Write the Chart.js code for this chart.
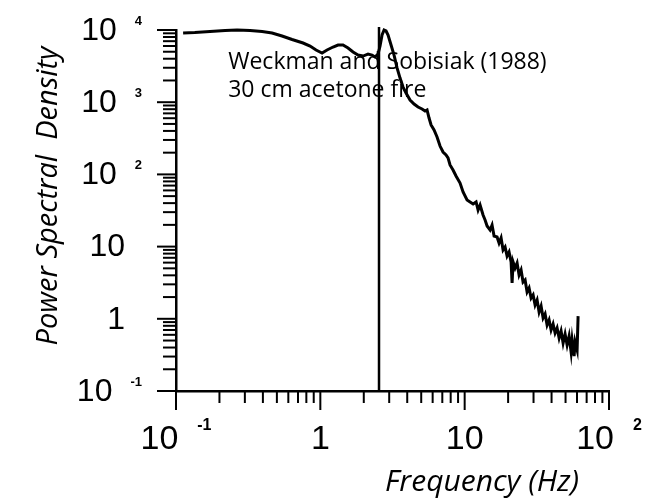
<!DOCTYPE html>
<html>
<head>
<meta charset="utf-8">
<script src="https://cdn.jsdelivr.net/npm/chart.js@4/dist/chart.umd.min.js"></script>
<style>
  html, body { margin: 0; padding: 0; background: #fff; }
  #wrap { width: 662px; height: 500px; position: relative; }
</style>
</head>
<body>
<div id="wrap"><canvas id="theChart"></canvas></div>
<script>
// spectrum (Hz, PSD)
const freq = [0.112, 0.135, 0.172, 0.219, 0.265, 0.326, 0.395, 0.463, 0.543, 0.637,
  0.759, 0.849, 0.934, 1.028, 1.113, 1.225, 1.326, 1.436, 1.556, 1.685,
  1.825, 1.977, 2.141, 2.282, 2.394, 2.511, 2.593, 2.677, 2.764, 2.853,
  2.946, 3.09, 3.242, 3.401, 3.567, 3.742, 3.925, 4.184, 4.46, 4.753,
  5.067, 5.316, 5.488, 5.666, 5.851, 6.136, 6.437, 6.751, 7.082, 7.429,
  7.669, 7.919, 8.307, 8.714, 9.292, 9.748, 10.39, 10.9, 11.44, 12.0,
  12.39, 12.79, 13.41, 13.85, 14.3, 15.0, 15.48, 15.99, 16.77, 17.31,
  17.88, 18.46, 19.06, 19.67, 20.31, 20.97, 21.31, 21.65, 22.35, 23.08,
  23.82, 24.6, 25.39, 26.22, 27.07, 27.95, 28.86, 29.8, 30.76, 31.76,
  32.79, 33.85, 34.95, 36.08, 37.25, 38.46, 39.7, 40.99, 42.32, 43.69,
  45.12, 46.57, 48.09, 49.64, 51.26, 52.91, 54.63, 55.51, 57.31, 58.23,
  60.12, 61.08];
const psd = [9090, 9230, 9530, 9840, 10000, 9840, 9530, 9090, 8260, 7390,
  6600, 6000, 5280, 4800, 5280, 5810, 6200, 6200, 5630, 4960,
  4500, 4360, 4650, 4500, 4230, 4650, 6000, 8530, 10000, 9690,
  8530, 6200, 4500, 2980, 2160, 1620, 1340, 1070, 944, 858,
  805, 755, 780, 604, 483, 412, 330, 247, 204, 186,
  169, 135, 115, 95, 76, 57, 44.2, 41.5, 38.9, 41.5,
  32.1, 37.7, 27.4, 23.4, 19.3, 17.0, 19.9, 14.0, 13.6, 11.2,
  13.2, 8.97, 9.87, 7.41, 8.42, 6.12, 3.13, 6.12, 5.05, 5.93,
  4.04, 4.74, 3.23, 3.45, 2.35, 2.67, 1.94, 2.14, 1.55, 1.82,
  1.24, 1.5, 1.03, 1.17, 0.821, 0.963, 0.7, 0.847, 0.636, 0.746,
  0.542, 0.678, 0.462, 0.616, 0.434, 0.578, 0.347, 0.509, 0.305, 0.477,
  0.37, 1.09];

// vertical marker line near the peak
const peakFreq = [2.55, 2.55];
const peakPsd = [0.1, 11000];

const xTickVals = [0.1, 1, 10, 100];
const xTickBase = ["10", "1", "10", "10"];
const xTickExp = ["-1", "", "", "2"];
const yTickVals = [0.1, 1, 10, 100, 1000, 10000];
const yTickBase = ["10", "1", "10", "10", "10", "10"];
const yTickExp = ["-1", "", "", "2", "3", "4"];
const minorSteps = [2, 3, 4, 5, 6, 7, 8, 9];

const xTitle = "Frequency (Hz)";
const yTitle = "Power Spectral  Density";
const noteLines = ["Weckman and Sobisiak (1988)", "30 cm acetone fire"];
const noteAt = { x: 0.23, y: 2900 };

function tickList(decades) {
  let out = [];
  decades.forEach((d, i) => {
    out.push({ value: d, major: true });
    if (i < decades.length - 1) {
      minorSteps.forEach(m => out.push({ value: d * m, major: false }));
    }
  });
  return out;
}

// ticks, power-of-ten labels, titles and the note
const decor = {
  id: "decor",
  beforeDatasetsDraw(chart) {
    const ctx = chart.ctx;
    const xs = chart.scales.x, ys = chart.scales.y;
    ctx.save();
    ctx.fillStyle = "#000";
    ctx.font = '23px "Open Sans"';
    ctx.textAlign = "left";
    ctx.textBaseline = "alphabetic";
    let nx = xs.getPixelForValue(noteAt.x);
    let ny = ys.getPixelForValue(noteAt.y);
    noteLines.forEach((t, i) => ctx.fillText(t, nx, ny + i * 28));
    ctx.restore();
  },
  afterDraw(chart) {
    const ctx = chart.ctx;
    const xs = chart.scales.x, ys = chart.scales.y;
    const area = chart.chartArea;
    ctx.save();
    ctx.strokeStyle = "#000";
    ctx.fillStyle = "#000";
    ctx.lineWidth = 2;

    xs.ticks.forEach(t => {
      let px = xs.getPixelForValue(t.value);
      ctx.beginPath();
      ctx.moveTo(px, area.bottom);
      ctx.lineTo(px, area.bottom + (t.major ? 19 : 12));
      ctx.stroke();
    });
    ys.ticks.forEach(t => {
      let py = ys.getPixelForValue(t.value);
      ctx.beginPath();
      ctx.moveTo(area.left, py);
      ctx.lineTo(area.left - (t.major ? 19 : 13), py);
      ctx.stroke();
    });

    ctx.textBaseline = "middle";
    // y labels, right aligned
    yTickVals.forEach((v, i) => {
      let py = ys.getPixelForValue(v);
      let right = area.left - 34;
      ctx.textAlign = "right";
      if (yTickExp[i]) {
        ctx.font = 'bold 13px "Liberation Sans"';
        let ew = ctx.measureText(yTickExp[i]).width;
        ctx.fillText(yTickExp[i], right, py - 9);
        ctx.font = '32px "Liberation Sans"';
        ctx.fillText(yTickBase[i], right - ew - 18, py + 1);
      } else {
        ctx.font = '32px "Liberation Sans"';
        ctx.fillText(yTickBase[i], right - 17, py + 1);
      }
    });
    // x labels, centred on the tick
    xTickVals.forEach((v, i) => {
      let px = xs.getPixelForValue(v);
      let y0 = area.bottom + 49;
      ctx.font = '34px "Liberation Sans"';
      let bw = ctx.measureText(xTickBase[i]).width;
      ctx.font = 'bold 16px "Liberation Sans"';
      let ew = xTickExp[i] ? ctx.measureText(xTickExp[i]).width + 19 : 0;
      let start = px - (bw + ew) / 2;
      ctx.textAlign = "left";
      ctx.font = '34px "Liberation Sans"';
      ctx.fillText(xTickBase[i], start, y0);
      if (xTickExp[i]) {
        ctx.font = 'bold 16px "Liberation Sans"';
        ctx.fillText(xTickExp[i], start + bw + 19, y0 - 14);
      }
    });

    // axis titles
    ctx.textBaseline = "alphabetic";
    ctx.textAlign = "center";
    ctx.font = 'italic 30px "Open Sans"';
    ctx.fillText(xTitle, 482, 491);
    ctx.font = 'italic 29px "Open Sans"';
    ctx.translate(57, 196);
    ctx.rotate(-Math.PI / 2);
    ctx.fillText(yTitle, 0, 0);
    ctx.restore();
  }
};

let chart = document.getElementById("theChart").getContext("2d");

new Chart(chart, {
  type: "line",
  data: {
    datasets: [
      {
        label: "PSD",
        data: freq.map((f, i) => ({ x: f, y: psd[i] })),
        borderColor: "#000",
        borderWidth: 3,
        pointRadius: 0,
        tension: 0,
        clip: false
      },
      {
        label: "marker",
        data: peakFreq.map((f, i) => ({ x: f, y: peakPsd[i] })),
        borderColor: "#000",
        borderWidth: 2.5,
        pointRadius: 0,
        clip: false
      }
    ]
  },
  options: {
    responsive: true,
    maintainAspectRatio: false,
    animation: false,
    layout: { padding: { top: 30, right: 53, left: 0, bottom: 0 } },
    plugins: { legend: { display: false }, tooltip: { enabled: false } },
    scales: {
      x: {
        type: "logarithmic",
        min: 0.1,
        max: 100,
        grid: { display: false },
        border: { display: true, color: "#000", width: 2.5 },
        ticks: { display: false },
        afterBuildTicks: s => { s.ticks = tickList(xTickVals); },
        afterFit: s => { s.height = 109; }
      },
      y: {
        type: "logarithmic",
        min: 0.1,
        max: 10000,
        grid: { display: false },
        border: { display: true, color: "#000", width: 2.5 },
        ticks: { display: false },
        afterBuildTicks: s => { s.ticks = tickList(yTickVals); },
        afterFit: s => { s.width = 176; }
      }
    }
  },
  plugins: [decor]
});
</script>
</body>
</html>
